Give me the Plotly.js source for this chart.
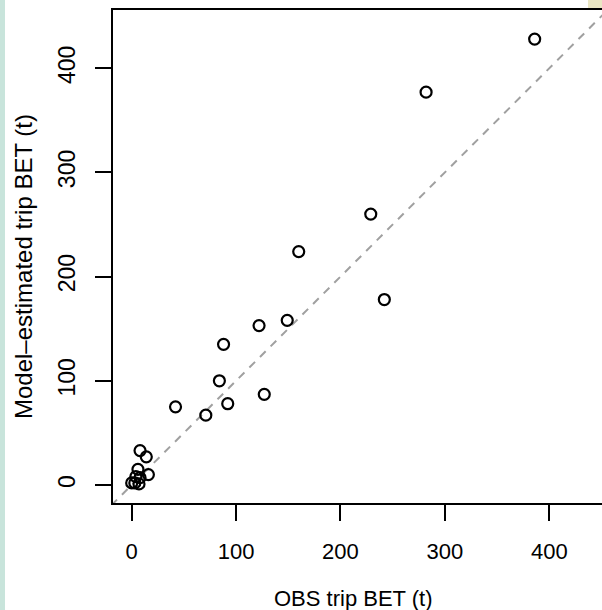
<!DOCTYPE html>
<html>
<head>
<meta charset="utf-8">
<script src="https://cdn.plot.ly/plotly-3.0.1.min.js"></script>
<style>
html,body{margin:0;padding:0;background:#fff;}
#chart{width:602px;height:610px;}
</style>
</head>
<body>
<div id="chart"></div>
<script>
// OBS trip BET (t) vs model-estimated trip BET (t)
const obsBET = [386, 282, 229, 160, 242, 149, 122, 88, 84, 127, 92, 42, 71, 8, 14, 6, 16, 4, 8, 0, 3, 7];
const modelBET = [428, 377, 260, 224, 178, 158, 153, 135, 100, 87, 78, 75, 67, 33, 27, 15, 10, 8, 7, 2, 2, 1];
const oneToOne = [-50, 500];
const xTicks = [0, 100, 200, 300, 400];
const yTicks = [0, 100, 200, 300, 400];
const xTitle = 'OBS trip BET (t)';
const yTitle = 'Model\u2013estimated trip BET (t)';

const FONT = 'Liberation Sans, Arial, sans-serif';
const L = 113, R = 0, T = 10, B = 107, W = 602, H = 610;
const pw = W - L - R, ph = H - T - B;
const px = v => (v - L) / pw;
const py = v => (H - B - v) / ph;

const traces = [
  {
    x: oneToOne, y: oneToOne, mode: 'lines', type: 'scatter',
    line: {color: '#a0a0a0', width: 2, dash: '8px,7px'},
    hoverinfo: 'skip', showlegend: false
  },
  {
    x: obsBET, y: modelBET, mode: 'markers', type: 'scatter',
    marker: {symbol: 'circle-open', size: 11, color: '#000', line: {width: 2.2, color: '#000'}},
    showlegend: false
  }
];

const layout = {
  width: W, height: H,
  margin: {l: L, r: R, t: T, b: B, pad: 0},
  paper_bgcolor: '#ffffff', plot_bgcolor: '#ffffff',
  showlegend: false,
  xaxis: {
    range: [-17.9, 450.5], tickvals: xTicks, ticktext: xTicks.map(String),
    showgrid: false, zeroline: false,
    showline: true, mirror: true, linecolor: '#000', linewidth: 2,
    ticks: 'outside', ticklen: 16, tickwidth: 2, tickcolor: '#000',
    tickfont: {family: FONT, size: 22, color: '#000'},
    ticklabelstandoff: 12
  },
  yaxis: {
    range: [-17.3, 455.9], tickvals: yTicks, ticktext: yTicks.map(String),
    showgrid: false, zeroline: false,
    showline: true, mirror: false, linecolor: '#000', linewidth: 2,
    ticks: 'outside', ticklen: 16, tickwidth: 2, tickcolor: '#000',
    tickangle: -90,
    tickfont: {family: FONT, size: 23, color: '#000'},
    ticklabelstandoff: 11
  },
  shapes: [
    {type: 'rect', xref: 'paper', yref: 'paper', x0: px(0), x1: px(5), y0: py(610), y1: py(0),
     fillcolor: '#c8e4db', line: {width: 0}, layer: 'below'},
    {type: 'rect', xref: 'paper', yref: 'paper', x0: px(588), x1: px(602), y0: py(8), y1: py(0),
     fillcolor: '#eae6c3', line: {width: 0}, layer: 'below'}
  ],
  annotations: [
    {text: xTitle, xref: 'paper', yref: 'paper', x: px(353), y: py(598),
     xanchor: 'center', yanchor: 'middle', showarrow: false,
     font: {family: FONT, size: 22, color: '#000'}},
    {text: yTitle, xref: 'paper', yref: 'paper', x: px(23), y: py(267),
     xanchor: 'center', yanchor: 'middle', showarrow: false, textangle: -90,
     font: {family: FONT, size: 24, color: '#000'}}
  ]
};

Plotly.newPlot('chart', traces, layout, {displayModeBar: false, staticPlot: true});
</script>
</body>
</html>
